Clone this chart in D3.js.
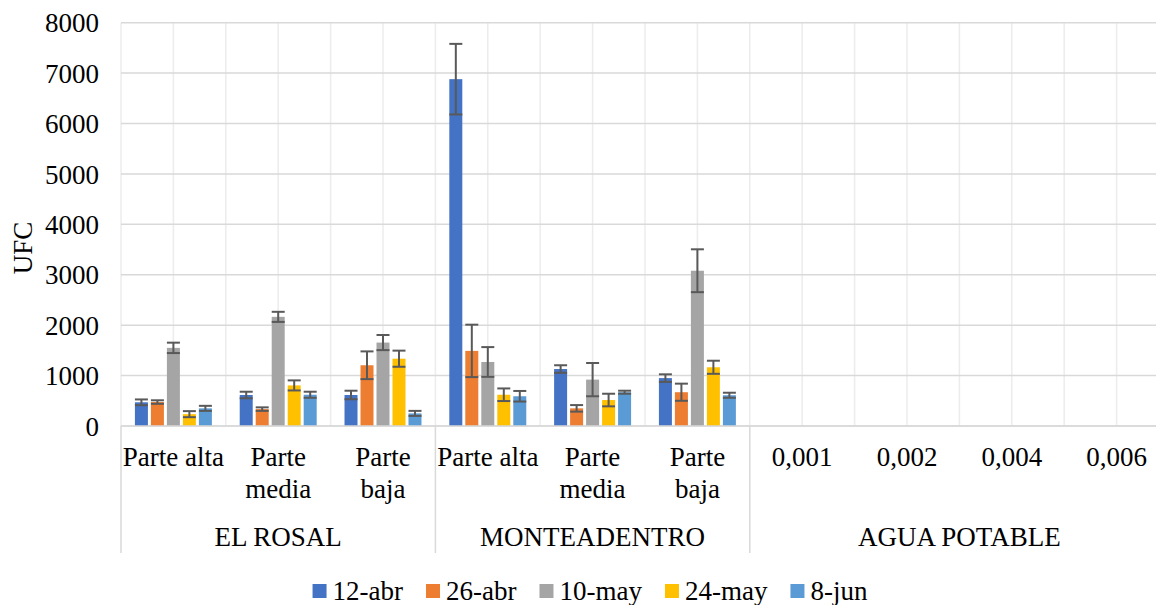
<!DOCTYPE html>
<html>
<head>
<meta charset="utf-8">
<script src="https://cdn.jsdelivr.net/npm/d3@7"></script>
<style>
  html, body { margin: 0; padding: 0; background: #fff; }
</style>
</head>
<body>
<script>
// categorias del eje X (dos niveles)
const categories = ["Parte alta", "Parte media", "Parte baja",
                    "Parte alta", "Parte media", "Parte baja",
                    "0,001", "0,002", "0,004", "0,006"];
const groupNames = ["EL ROSAL", "MONTEADENTRO", "AGUA POTABLE"];
const groupSizes = [3, 3, 4];

const seriesNames = ["12-abr", "26-abr", "10-may", "24-may", "8-jun"];
const colors = ["#4472C4", "#ED7D31", "#A5A5A5", "#FFC000", "#5B9BD5"];

// valores UFC por fecha
const abr12 = [470, 615, 615, 6880, 1130, 950, 0, 0, 0, 0];
const abr26 = [475, 335, 1205, 1490, 350, 670, 0, 0, 0, 0];
const may10 = [1550, 2165, 1655, 1270, 920, 3080, 0, 0, 0, 0];
const may24 = [235, 805, 1335, 620, 515, 1165, 0, 0, 0, 0];
const jun8 = [350, 620, 250, 590, 670, 610, 0, 0, 0, 0];

// barras de error (+/-)
const errAbr12 = [57, 65, 85, 700, 75, 75, 0, 0, 0, 0];
const errAbr26 = [35, 35, 275, 520, 65, 170, 0, 0, 0, 0];
const errMay10 = [103, 100, 150, 295, 330, 425, 0, 0, 0, 0];
const errMay24 = [60, 100, 160, 125, 125, 130, 0, 0, 0, 0];
const errJun8 = [50, 60, 50, 105, 30, 50, 0, 0, 0, 0];

const yTicks = [0, 1000, 2000, 3000, 4000, 5000, 6000, 7000, 8000];

const series = [abr12, abr26, may10, may24, jun8];
const errors = [errAbr12, errAbr26, errMay10, errMay24, errJun8];

const width = 1156, height = 605;
const plotLeft = 121, plotRight = 1169, plotTop = 22.7, plotBottom = 426;
const fontSize = '27px';
const serif = "'Liberation Serif'";

const svg = d3.select('body').append('svg')
    .attr('width', width)
    .attr('height', height)
    .style('display', 'block')
    .style('font-family', serif);

const x = d3.scaleBand()
    .domain(d3.range(categories.length))
    .range([plotLeft, plotRight]);

const xs = d3.scaleBand()
    .domain(d3.range(seriesNames.length))
    .range([0, x.bandwidth()])
    .paddingInner(0.1875)
    .paddingOuter(0.87);

const y = d3.scaleLinear()
    .domain([0, 8000])
    .range([plotBottom, plotTop]);

// rejilla vertical (cada media categoria)
const half = x.bandwidth() / 2;
const vLines = d3.range(categories.length * 2).map(i => plotLeft + i * half);
svg.append('g').selectAll('line')
    .data(vLines)
    .enter().append('line')
    .attr('x1', d => d).attr('x2', d => d)
    .attr('y1', plotTop).attr('y2', plotBottom)
    .attr('stroke', '#ececec')
    .attr('stroke-width', 1.5);

// rejilla horizontal
svg.append('g').selectAll('line')
    .data(yTicks)
    .enter().append('line')
    .attr('x1', plotLeft).attr('x2', plotRight)
    .attr('y1', d => y(d)).attr('y2', d => y(d))
    .attr('stroke', '#d9d9d9')
    .attr('stroke-width', 1.5);

// eje Y
const yAxis = d3.axisLeft(y)
    .tickValues(yTicks)
    .tickFormat(d3.format('d'))
    .tickSize(0)
    .tickPadding(0);
const yG = svg.append('g')
    .attr('transform', 'translate(99,0)')
    .call(yAxis);
yG.select('.domain').remove();
yG.selectAll('text')
    .style('font-size', fontSize)
    .style('font-family', serif)
    .attr('fill', '#000')
    .attr('dy', '0.34em');

svg.append('text')
    .attr('transform', 'translate(23,248) rotate(-90)')
    .attr('text-anchor', 'middle')
    .attr('dy', '0.34em')
    .style('font-size', fontSize)
    .style('font-family', serif)
    .text('UFC');

// barras
const seriesG = svg.append('g').selectAll('g.serie')
    .data(series)
    .enter().append('g')
    .attr('class', 'serie');

seriesG.selectAll('rect')
    .data((vals, s) => vals.map((v, i) => ({ s: s, i: i, v: v })))
    .enter().append('rect')
    .attr('x', d => x(d.i) + xs(d.s))
    .attr('y', d => y(d.v))
    .attr('width', xs.bandwidth())
    .attr('height', d => y(0) - y(d.v))
    .attr('fill', d => colors[d.s]);

// barras de error
const errData = [];
series.forEach((vals, s) => {
    vals.forEach((v, i) => {
        if (errors[s][i] > 0) errData.push({ s: s, i: i, v: v, e: errors[s][i] });
    });
});
const errG = svg.append('g').selectAll('g.err')
    .data(errData)
    .enter().append('g')
    .attr('class', 'err')
    .attr('stroke', '#595959')
    .attr('stroke-width', 2);
errG.append('line')
    .attr('x1', d => x(d.i) + xs(d.s) + xs.bandwidth() / 2)
    .attr('x2', d => x(d.i) + xs(d.s) + xs.bandwidth() / 2)
    .attr('y1', d => y(d.v + d.e))
    .attr('y2', d => y(d.v - d.e));
['+', '-'].forEach(sign => {
    errG.append('line')
        .attr('x1', d => x(d.i) + xs(d.s))
        .attr('x2', d => x(d.i) + xs(d.s) + xs.bandwidth())
        .attr('y1', d => y(sign === '+' ? d.v + d.e : d.v - d.e))
        .attr('y2', d => y(sign === '+' ? d.v + d.e : d.v - d.e));
});

// eje X: linea base y separadores de grupo
svg.append('line')
    .attr('x1', plotLeft).attr('x2', plotRight)
    .attr('y1', plotBottom).attr('y2', plotBottom)
    .attr('stroke', '#d9d9d9')
    .attr('stroke-width', 1.5);

const groupStarts = [0];
groupSizes.forEach((n, i) => groupStarts.push(groupStarts[i] + n));
svg.append('g').selectAll('line')
    .data(groupStarts)
    .enter().append('line')
    .attr('x1', d => d < categories.length ? x(d) : plotRight)
    .attr('x2', d => d < categories.length ? x(d) : plotRight)
    .attr('y1', plotBottom).attr('y2', 553)
    .attr('stroke', '#d9d9d9')
    .attr('stroke-width', 1.5);

// etiquetas de categoria con ajuste de linea
const catG = svg.append('g').selectAll('text')
    .data(categories)
    .enter().append('text')
    .attr('text-anchor', 'middle')
    .style('font-size', fontSize)
    .style('font-family', serif)
    .attr('x', (d, i) => x(i) + half)
    .attr('y', 457);

catG.each(function(d, i) {
    const t = d3.select(this);
    const words = d.split(' ');
    let lines = [], line = [];
    words.forEach(w => {
        line.push(w);
        t.text(line.join(' '));
        if (this.getComputedTextLength() > x.bandwidth() && line.length > 1) {
            line.pop();
            lines.push(line.join(' '));
            line = [w];
        }
    });
    lines.push(line.join(' '));
    t.text(null);
    lines.forEach((l, k) => {
        t.append('tspan')
            .attr('x', x(i) + half)
            .attr('dy', k === 0 ? '0.34em' : 32)
            .text(l);
    });
});

svg.append('g').selectAll('text')
    .data(groupNames)
    .enter().append('text')
    .attr('text-anchor', 'middle')
    .style('font-size', fontSize)
    .style('font-family', serif)
    .attr('x', (d, i) => {
        const a = x(groupStarts[i]);
        const b = groupStarts[i + 1] < categories.length ? x(groupStarts[i + 1]) : plotRight;
        return (a + b) / 2;
    })
    .attr('y', 537)
    .attr('dy', '0.34em')
    .text(d => d);

// leyenda
const legend = svg.append('g');
let lx = 0;
seriesNames.forEach((name, i) => {
    const item = legend.append('g').attr('transform', 'translate(' + lx + ',0)');
    item.append('rect')
        .attr('x', 0).attr('y', -7)
        .attr('width', 14).attr('height', 14)
        .attr('fill', colors[i]);
    const txt = item.append('text')
        .attr('x', 20)
        .attr('dy', '0.34em')
        .style('font-size', fontSize)
        .style('font-family', serif)
        .text(name);
    lx += 20 + txt.node().getComputedTextLength() + 23;
});
lx -= 23;
legend.attr('transform', 'translate(' + (590 - lx / 2) + ',591)');
</script>
</body>
</html>
